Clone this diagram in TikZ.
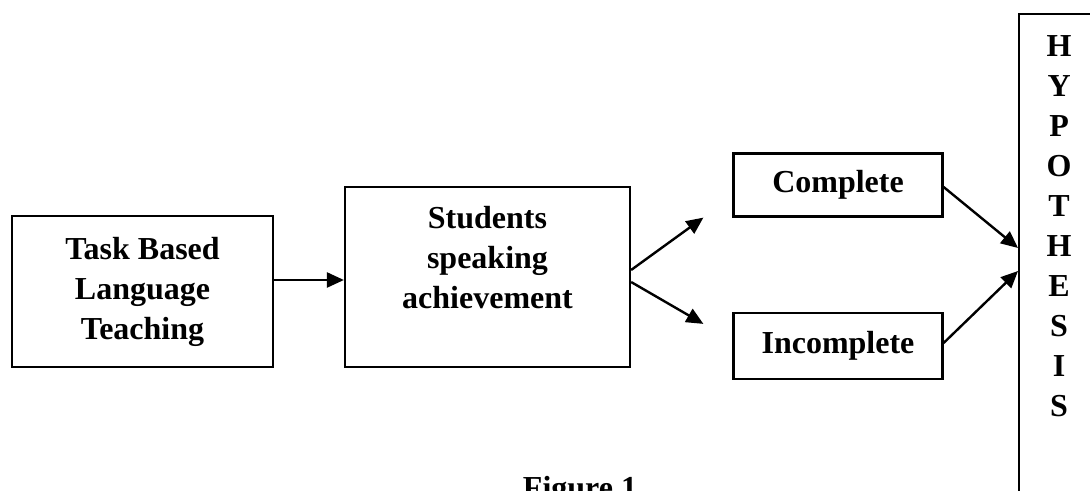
\documentclass[tikz,border=0pt]{standalone}
\usepackage{fontspec}
\setmainfont{Liberation Serif}
\usetikzlibrary{arrows.meta,positioning}

\begin{document}
\begin{tikzpicture}[x=0.5pt,y=-0.5pt,
  txt/.style={inner sep=0pt,align=center,font=\fontsize{16}{20}\selectfont\bfseries},
  box/.style={txt,draw,line width=1.1pt},
  arr/.style={line width=1.2pt,-{Triangle[length=8.5pt,width=7.5pt]}}]
\useasboundingbox (0,0) rectangle (1090,491);
\node[box,minimum width=130.5pt,minimum height=75.5pt] (tblt) at (142.5,291.5) {Task Based\\Language\\Teaching};
\node[box,minimum width=142.5pt,minimum height=90pt,label={[txt,anchor=north,yshift=-10pt]north:Students\\speaking\\achievement}] (ssa) at (487.5,277) {};
\node[box,minimum width=104.5pt,minimum height=31.5pt] (comp) at (838,185) {Complete};
\node[box,minimum width=104.5pt,minimum height=33pt] (incomp) at (838,346) {Incomplete};
\node[box,anchor=north west,minimum width=40pt,minimum height=250pt,label={[txt,anchor=north,yshift=-11pt]north:H\\Y\\P\\O\\T\\H\\E\\S\\I\\S}] (hyp) at (1018,13) {};
\node[txt,anchor=base] (fig) at (580,498) {Figure 1};
\draw[arr] ([yshift=5.75pt]tblt.east) -- ([yshift=5.75pt]tblt.east -| ssa.west);
\draw[arr] ([yshift=3.5pt]ssa.east) -- ([xshift=-14.5pt]comp.south west);
\draw[arr] ([yshift=-2.5pt]ssa.east) -- ([xshift=-14.5pt,yshift=-6pt]incomp.north west);
\draw[arr] ([yshift=-1pt]comp.east) -- ([yshift=-117.5pt]hyp.north west);
\draw[arr] ([yshift=1.5pt]incomp.east) -- ([yshift=-129pt]hyp.north west);
\end{tikzpicture}
\end{document}
